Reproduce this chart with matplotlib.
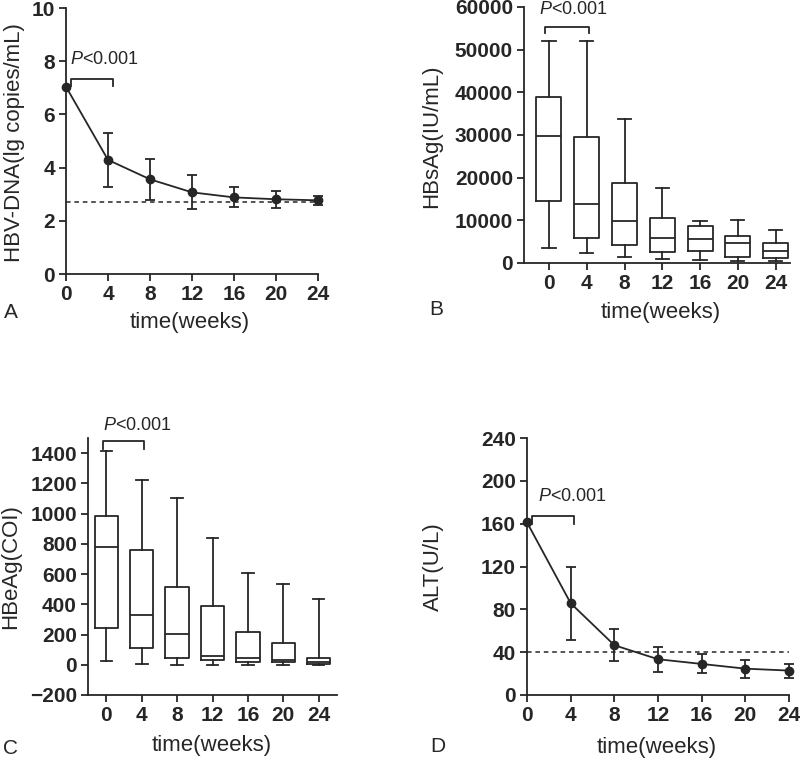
import matplotlib
matplotlib.use("Agg")
import matplotlib.pyplot as plt
import numpy as np

# ----------------------------------------------------------------------------
#  DATA
# ----------------------------------------------------------------------------
weeks = [0, 4, 8, 12, 16, 20, 24]
week_labels = ["0", "4", "8", "12", "16", "20", "24"]

# A: HBV-DNA mean and error bar ends
dna_mean = [7.04, 4.29, 3.56, 3.07, 2.88, 2.81, 2.77]
dna_upper = [7.04, 5.31, 4.31, 3.73, 3.28, 3.12, 2.93]
dna_lower = [7.04, 3.28, 2.78, 2.44, 2.51, 2.48, 2.58]
dna_limit = 2.7

# B: HBsAg box stats
hbsag_whislo = [3450, 2430, 1330, 1020, 630, 390, 390]
hbsag_q1 = [14640, 5950, 4310, 2500, 2740, 1330, 1100]
hbsag_med = [29760, 13780, 9790, 5950, 5560, 4620, 2820]
hbsag_q3 = [39000, 29520, 18790, 10650, 8690, 6340, 4700]
hbsag_whishi = [51920, 51920, 33670, 17620, 9950, 10100, 7830]

# C: HBeAg box stats
hbeag_whislo = [22, 7, 0, 0, 0, 0, 0]
hbeag_q1 = [244, 110, 44, 29, 15, 15, 7]
hbeag_med = [781, 328, 202, 59, 48, 29, 18]
hbeag_q3 = [981, 757, 515, 387, 216, 141, 48]
hbeag_whishi = [1412, 1225, 1104, 836, 605, 535, 436]

# D: ALT mean and error bar ends
alt_mean = [161.2, 85.7, 46.5, 33.4, 29.0, 24.6, 22.8]
alt_upper = [161.2, 120.0, 61.4, 44.9, 38.0, 32.7, 29.3]
alt_lower = [161.2, 51.4, 32.1, 21.2, 20.3, 16.2, 15.6]
alt_limit = 40

# ----------------------------------------------------------------------------
#  STYLE
# ----------------------------------------------------------------------------
plt.rcParams['font.family'] = ['Liberation Sans', 'DejaVu Sans']
plt.rcParams['mathtext.fontset'] = 'custom'
plt.rcParams['mathtext.it'] = 'Liberation Sans:italic'
plt.rcParams['mathtext.rm'] = 'Liberation Sans'
ink = '#262626'
lw = 1.3

W, H = 800, 759
fig = plt.figure(figsize=(W / 100, H / 100), dpi=100)


def px_axes(left, top, right, bottom):
    return fig.add_axes([left / W, 1 - bottom / H, (right - left) / W, (bottom - top) / H])


def style(ax):
    for s in ['top', 'right']:
        ax.spines[s].set_visible(False)
    for s in ['left', 'bottom']:
        ax.spines[s].set_linewidth(lw)
        ax.spines[s].set_color(ink)
    ax.tick_params(direction='out', length=5, width=lw, color=ink,
                   labelsize=15, pad=3, labelcolor=ink)
    for lab in ax.get_xticklabels() + ax.get_yticklabels():
        lab.set_fontweight('bold')


def label(x, y, s, rot=0, size=16):
    fig.text(x / W, 1 - y / H, s, rotation=rot, ha='center', va='center',
             fontsize=size, color=ink)


def bracket(ax, x0, x1, ytop, ybot, tx, ty):
    ax.plot([x0, x0, x1, x1], [ybot, ytop, ytop, ybot], color=ink, lw=lw, clip_on=False)
    ax.text(tx, ty, r'$\it{P}$<0.001', ha='center', va='center', fontsize=13, color=ink)


def line_panel(ax, mean, upper, lower, limit, ymax, ystep):
    mean = np.array(mean)
    yerr = [mean - np.array(lower), np.array(upper) - mean]
    ax.errorbar(weeks[1:], mean[1:], yerr=[yerr[0][1:], yerr[1][1:]], fmt='none',
                ecolor=ink, elinewidth=lw, capsize=3.5, capthick=lw, clip_on=False)
    ax.plot(weeks, mean, color=ink, lw=lw, marker='o', markersize=6, clip_on=False, zorder=3)
    ax.axhline(limit, color=ink, lw=1.1, ls=(0, (3, 2.5)))
    ax.set_xlim(0, 24)
    ax.set_ylim(0, ymax)
    ax.set_xticks(weeks)
    ax.set_xticklabels(week_labels)
    ax.set_yticks(np.arange(0, ymax + ystep / 2, ystep))
    style(ax)


def box_panel(ax, lo, q1, med, q3, hi, capw):
    stats = []
    for i in range(len(weeks)):
        stats.append(dict(whislo=lo[i], q1=q1[i], med=med[i], q3=q3[i], whishi=hi[i]))
    props = dict(color=ink, linewidth=lw)
    ax.bxp(stats, positions=range(len(weeks)), widths=0.66, showfliers=False,
           boxprops=props, whiskerprops=props, capprops=props, medianprops=props,
           capwidths=capw)
    ax.set_xticks(range(len(weeks)))
    ax.set_xticklabels(week_labels)


# ---- A ----
axA = px_axes(66, 8, 318, 274)
line_panel(axA, dna_mean, dna_upper, dna_lower, dna_limit, 10, 2)
bracket(axA, 0.45, 4.5, 7.34, 7.08, 3.67, 8.07)
label(15, 143, 'HBV-DNA(lg copies/mL)', rot=90)
label(190, 322, 'time(weeks)')
label(11, 312, 'A', size=15)

# ---- B ----
axB = px_axes(524, 7, 790, 263)
box_panel(axB, hbsag_whislo, hbsag_q1, hbsag_med, hbsag_q3, hbsag_whishi, 0.35)
axB.set_xlim(-0.66, 6.38)
axB.set_ylim(0, 60000)
axB.set_yticks(np.arange(0, 60001, 10000))
style(axB)
bracket(axB, -0.1, 1.06, 55400, 53800, 0.64, 59500)
label(432, 136, 'HBsAg(IU/mL)', rot=90)
label(661, 312, 'time(weeks)')
label(436, 310, 'B', size=15)

# ---- C ----
axC = px_axes(88, 438, 337, 695)
box_panel(axC, hbeag_whislo, hbeag_q1, hbeag_med, hbeag_q3, hbeag_whishi, 0.33)
axC.set_xlim(-0.52, 6.52)
axC.set_ylim(-200, 1500)
axC.set_yticks(np.arange(-200, 1401, 200))
style(axC)
bracket(axC, -0.11, 1.06, 1479, 1430, 0.87, 1585)
label(11, 567, 'HBeAg(COI)', rot=90)
label(212, 746, 'time(weeks)')
label(10, 748, 'C', size=15)

# ---- D ----
axD = px_axes(527, 438, 789, 695)
line_panel(axD, alt_mean, alt_upper, alt_lower, alt_limit, 240, 40)
bracket(axD, 0.46, 4.27, 167.4, 160, 4.14, 185)
label(433, 567, 'ALT(U/L)', rot=90)
label(657, 747, 'time(weeks)')
label(438, 747, 'D', size=15)

fig.savefig('out.png', dpi=100)
